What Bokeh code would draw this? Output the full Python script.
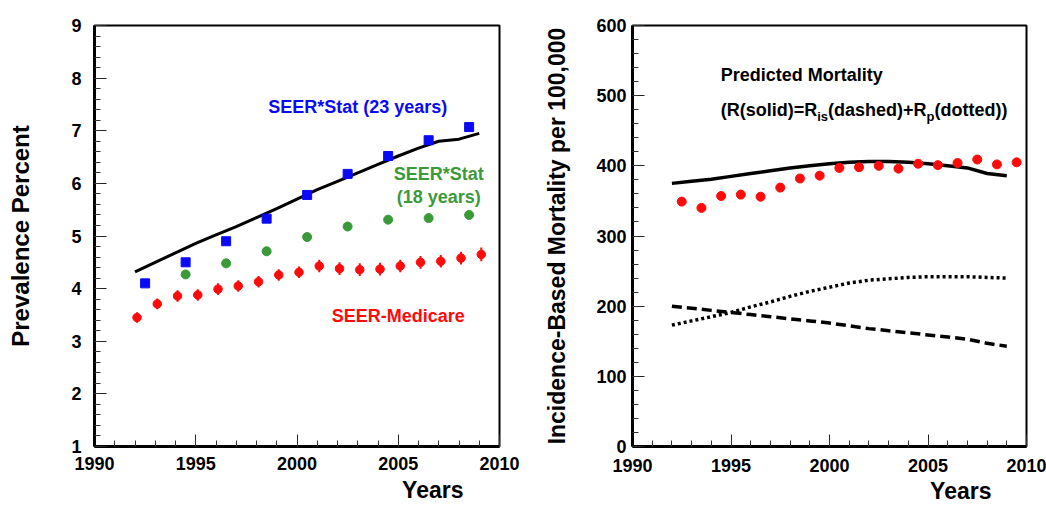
from bokeh.plotting import figure
from bokeh.layouts import row
from bokeh.models import Range1d, Label, FixedTicker, Title
from bokeh.embed import file_html
from bokeh.resources import INLINE

FONT = "Liberation Sans"

# ---- Prevalence panel data ----
fit_years = [1992, 1993, 1994, 1995, 1996, 1997, 1998, 1999, 2000,
             2001, 2002, 2003, 2004, 2005, 2006, 2007, 2008, 2009]
prev_fit = [4.32, 4.50, 4.68, 4.86, 5.02, 5.18, 5.35, 5.52, 5.70,
            5.88, 6.04, 6.20, 6.36, 6.52, 6.67, 6.80, 6.84, 6.95]

stat23_years = [1992.5, 1994.5, 1996.5, 1998.5, 2000.5, 2002.5, 2004.5, 2006.5, 2008.5]
stat23_prev = [4.10, 4.50, 4.90, 5.33, 5.78, 6.18, 6.52, 6.82, 7.07]

stat18_years = [1994.5, 1996.5, 1998.5, 2000.5, 2002.5, 2004.5, 2006.5, 2008.5]
stat18_prev = [4.27, 4.48, 4.71, 4.98, 5.18, 5.31, 5.34, 5.40]

medicare_years = [1992.1, 1993.1, 1994.1, 1995.1, 1996.1, 1997.1, 1998.1, 1999.1, 2000.1,
                  2001.1, 2002.1, 2003.1, 2004.1, 2005.1, 2006.1, 2007.1, 2008.1, 2009.1]
medicare_prev = [3.45, 3.71, 3.86, 3.88, 3.99, 4.05, 4.13, 4.26, 4.31,
                 4.43, 4.38, 4.36, 4.37, 4.43, 4.50, 4.52, 4.58, 4.65]
medicare_err = [0.10, 0.10, 0.11, 0.11, 0.11, 0.11, 0.11, 0.11, 0.11,
                0.12, 0.12, 0.12, 0.12, 0.12, 0.12, 0.12, 0.12, 0.13]

# ---- Mortality panel data ----
mort_years = [1992, 1993, 1994, 1995, 1996, 1997, 1998, 1999, 2000,
              2001, 2002, 2003, 2004, 2005, 2006, 2007, 2008, 2009]
mort_total = [375, 378, 381, 385, 389, 393, 397, 400, 403,
              405, 406, 406, 405, 403, 400, 397, 389, 386]
mort_is = [200, 197, 194, 191, 188, 185, 182, 179, 176,
           172, 168, 165, 162, 159, 156, 153, 147, 143]
mort_p = [173, 179, 185, 191, 199, 206, 214, 221, 227,
          233, 237, 239, 241, 242, 242, 242, 241, 240]

obs_years = [1992.5, 1993.5, 1994.5, 1995.5, 1996.5, 1997.5, 1998.5, 1999.5, 2000.5,
             2001.5, 2002.5, 2003.5, 2004.5, 2005.5, 2006.5, 2007.5, 2008.5, 2009.5]
obs_mort = [349, 340, 357, 359, 356, 369, 382, 386, 397,
            398, 400, 396, 403, 401, 404, 409, 402, 405]

# ---- ticks ----
x_major = [1990, 1995, 2000, 2005, 2010]
x_minor = list(range(1990, 2011))
prev_major = [1, 2, 3, 4, 5, 6, 7, 8, 9]
prev_minor = [1 + 0.2 * i for i in range(41)]
mort_major = [0, 100, 200, 300, 400, 500, 600]
mort_minor = list(range(0, 601, 20))

BLUE = "#0a0af5"
GREEN = "#3a9a3a"
RED = "#ff0a0a"


def style_axes(p, ylabel, y_label_standoff, y_axis_label_standoff, x_label_standoff):
    p.outline_line_color = "black"
    p.outline_line_width = 2
    p.xgrid.visible = False
    p.ygrid.visible = False
    for ax in (p.xaxis[0], p.yaxis[0]):
        ax.axis_line_color = "black"
        ax.axis_line_width = 3
        ax.major_tick_in = 12
        ax.major_tick_out = 0
        ax.minor_tick_in = 6
        ax.minor_tick_out = 0
        ax.major_tick_line_color = "#222222"
        ax.minor_tick_line_color = "#333333"
        ax.major_label_text_font = FONT
        ax.major_label_text_font_style = "bold"
        ax.major_label_text_font_size = "18px"
        ax.major_label_text_color = "black"
    p.yaxis[0].major_label_standoff = y_label_standoff
    p.xaxis[0].major_label_standoff = x_label_standoff
    p.yaxis[0].axis_label = ylabel
    p.yaxis[0].axis_label_text_font = FONT
    p.yaxis[0].axis_label_text_font_style = "bold"
    p.yaxis[0].axis_label_text_font_size = "24px"
    p.yaxis[0].axis_label_text_color = "black"
    p.yaxis[0].axis_label_standoff = y_axis_label_standoff


def x_title(p, offset, standoff):
    # "Years" sits under the axis, pulled in from the right end
    p.add_layout(Title(text="Years", align="right", offset=offset, standoff=standoff,
                       text_font=FONT, text_font_style="bold", text_font_size="23px",
                       text_color="black"), "below")


def text(p, x, y, s, color="black", size="18px", align="center", baseline="middle", x_offset=0):
    p.add_layout(Label(x=x, y=y, text=s, text_color=color, text_font=FONT,
                       text_font_style="bold", text_font_size=size,
                       text_align=align, text_baseline=baseline, x_offset=x_offset))


# ================= Prevalence =================
p1 = figure(width=526, height=508, output_backend="svg", toolbar_location=None,
            x_range=Range1d(1990, 2010), y_range=Range1d(1, 9),
            min_border_left=94, min_border_right=27, min_border_top=13, min_border_bottom=62)
p1.xaxis[0].ticker = FixedTicker(ticks=x_major, minor_ticks=x_minor)
p1.yaxis[0].ticker = FixedTicker(ticks=prev_major, minor_ticks=prev_minor)
style_axes(p1, "Prevalence Percent", 13, 34, 10)
x_title(p1, 36, 5)

p1.line(fit_years, prev_fit, line_color="black", line_width=3)
p1.scatter(stat23_years, stat23_prev, marker="square", size=9, color=BLUE)
p1.scatter(stat18_years, stat18_prev, marker="circle", size=9, color=GREEN)
p1.segment(x0=medicare_years, x1=medicare_years,
           y0=[v - e for v, e in zip(medicare_prev, medicare_err)],
           y1=[v + e for v, e in zip(medicare_prev, medicare_err)],
           line_color=RED, line_width=2)
p1.scatter(medicare_years, medicare_prev, marker="circle", size=8.5, color=RED)

text(p1, 2003.0, 7.45, "SEER*Stat (23 years)", BLUE)
text(p1, 2007.0, 6.17, "SEER*Stat", GREEN)
text(p1, 2007.0, 5.75, "(18 years)", GREEN)
text(p1, 2005.0, 3.48, "SEER-Medicare", RED)

# ================= Mortality =================
p2 = figure(width=520, height=508, output_backend="svg", toolbar_location=None,
            x_range=Range1d(1990, 2010), y_range=Range1d(0, 600),
            min_border_left=106, min_border_right=20, min_border_top=25, min_border_bottom=61)
p2.xaxis[0].ticker = FixedTicker(ticks=x_major, minor_ticks=x_minor)
p2.yaxis[0].ticker = FixedTicker(ticks=mort_major, minor_ticks=mort_minor)
style_axes(p2, "Incidence-Based Mortality per 100,000", 6, 23, 12)
p2.yaxis[0].axis_label_text_font_size = "23px"
x_title(p2, 35, 3)

p2.line(mort_years, mort_total, line_color="black", line_width=3.5)
p2.line(mort_years, mort_is, line_color="black", line_width=3.5, line_dash="10 5")
p2.line(mort_years, mort_p, line_color="black", line_width=3.5, line_dash="3 3")
p2.scatter(obs_years, obs_mort, marker="circle", size=9, color=RED)

text(p2, 1994.48, 529, "Predicted Mortality", align="left", baseline="alphabetic")
# formula line, built from normal-size pieces and lowered subscripts
text(p2, 1994.48, 479, "(R(solid)=R", align="left", baseline="alphabetic")
text(p2, 1994.48, 471, "is", size="13px", align="left", baseline="alphabetic", x_offset=96.5)
text(p2, 1994.48, 479, "(dashed)+R", align="left", baseline="alphabetic", x_offset=107.3)
text(p2, 1994.48, 471, "p", size="13px", align="left", baseline="alphabetic", x_offset=205.8)
text(p2, 1994.48, 479, "(dotted))", align="left", baseline="alphabetic", x_offset=213.7)

layout = row(p1, p2)
open("out.html", "w").write(file_html(layout, INLINE))
